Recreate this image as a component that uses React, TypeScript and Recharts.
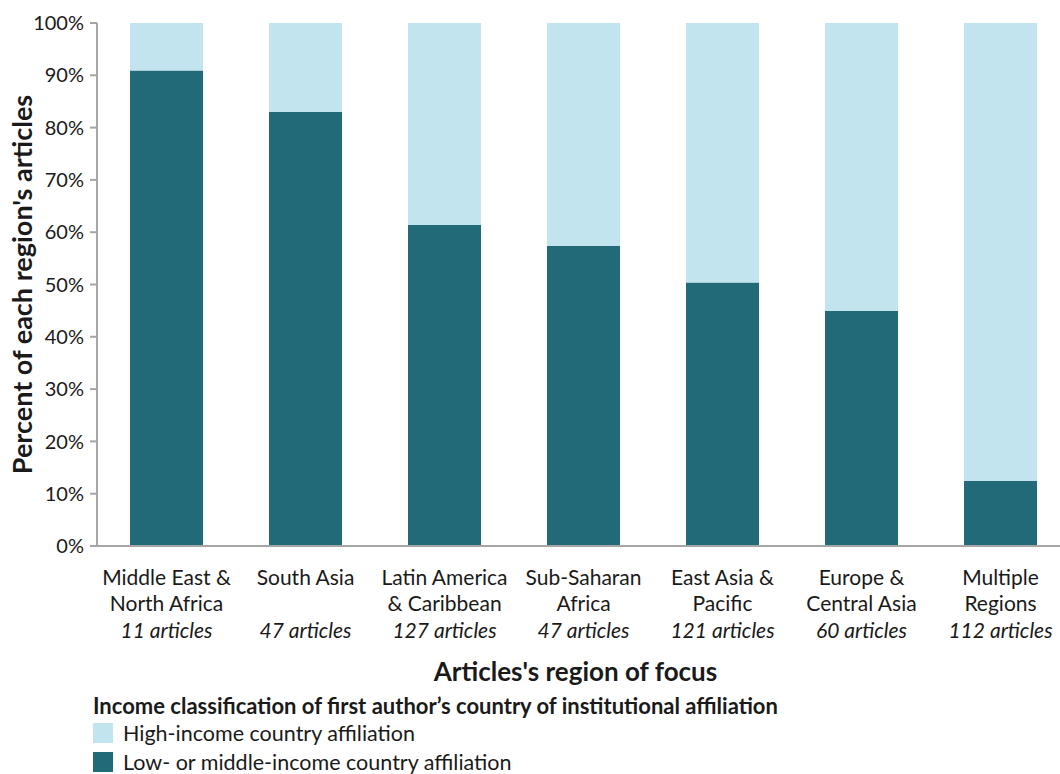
import { Bar, BarChart, XAxis, YAxis } from "recharts";

const regions = [
  ["Middle East &", "North Africa"],
  ["South Asia", ""],
  ["Latin America", "& Caribbean"],
  ["Sub-Saharan", "Africa"],
  ["East Asia &", "Pacific"],
  ["Europe &", "Central Asia"],
  ["Multiple", "Regions"],
];
const articleCounts = [11, 47, 127, 47, 121, 60, 112];
const lowMiddleShare = [90.9, 83.0, 61.4, 57.4, 50.4, 45.0, 12.5];
const highShare = [9.1, 17.0, 38.6, 42.6, 49.6, 55.0, 87.5];
const yTicks = [0, 10, 20, 30, 40, 50, 60, 70, 80, 90, 100];

const DARK = "#236a78";
const LIGHT = "#c2e4ee";
const AXIS = "#a6a6a6";
const INK = "#1a1a1a";
const FONT = "Lato, 'Open Sans', sans-serif";

const data = regions.map((r, i) => ({
  name: r.join(" "),
  low: lowMiddleShare[i],
  high: highShare[i],
}));

function RegionTick(props: any) {
  const { x, y, payload } = props;
  const i = payload.index;
  const lines = regions[i];
  return (
    <g transform={`translate(${x},${y})`}>
      <text textAnchor="middle" fontSize={21} fill={INK} fontFamily={FONT}>
        <tspan x={0} y={31}>{lines[0]}</tspan>
        <tspan x={0} y={57}>{lines[1]}</tspan>
        <tspan x={0} y={84} fontStyle="italic">{articleCounts[i]} articles</tspan>
      </text>
    </g>
  );
}

function LegendBox() {
  return (
    <div style={{ position: "absolute", left: 93, top: 694, fontFamily: FONT, color: INK }}>
      <div style={{ fontWeight: "bold", fontSize: 22, lineHeight: "24px" }}>
        Income classification of first author’s country of institutional affiliation
      </div>
      {[
        [LIGHT, "High-income country affiliation"],
        [DARK, "Low- or middle-income country affiliation"],
      ].map(([c, t]) => (
        <div key={t} style={{ display: "flex", alignItems: "center", height: 29, fontSize: 21.5 }}>
          <span style={{ width: 20, height: 20, background: c, marginRight: 10, display: "inline-block" }} />
          {t}
        </div>
      ))}
    </div>
  );
}

export default function App() {
  return (
    <div style={{ position: "absolute", left: 0, top: 0, width: 1060, height: 774, overflow: "hidden", background: "#fff" }}>
      <BarChart
        width={1075}
        height={774}
        data={data}
        margin={{ top: 23, right: 5, bottom: 198, left: 0 }}
        barSize={73}
      >
        <XAxis
          dataKey="name"
          interval={0}
          tickLine={false}
          axisLine={{ stroke: AXIS, strokeWidth: 2 }}
          tick={<RegionTick />}
          label={{
            value: "Articles's region of focus",
            position: "insideBottom",
            offset: -105,
            fontSize: 26,
            fontWeight: "bold",
            fill: INK,
            fontFamily: FONT,
            dx: -8,
          }}
        />
        <YAxis
          width={97}
          domain={[0, 100]}
          ticks={yTicks}
          interval={0}
          tickFormatter={(v) => `${v}%`}
          tickSize={7}
          tickMargin={6}
          tickLine={{ stroke: AXIS, strokeWidth: 2 }}
          axisLine={{ stroke: AXIS, strokeWidth: 2 }}
          tick={{ fontSize: 20, fill: INK, fontFamily: FONT }}
          label={{
            value: "Percent of each region's articles",
            angle: -90,
            position: "insideLeft",
            offset: 22,
            fontSize: 27,
            fontWeight: "bold",
            fill: INK,
            fontFamily: FONT,
            style: { textAnchor: "middle" },
          }}
        />
        <Bar dataKey="low" stackId="a" fill={DARK} isAnimationActive={false} />
        <Bar dataKey="high" stackId="a" fill={LIGHT} isAnimationActive={false} />
      </BarChart>
      <LegendBox />
    </div>
  );
}
